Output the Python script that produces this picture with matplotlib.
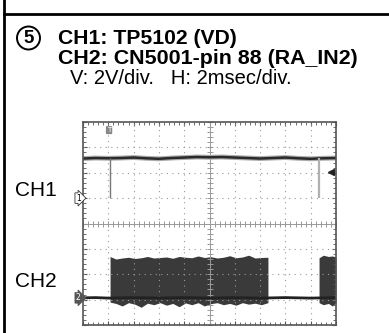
import matplotlib.pyplot as plt
import numpy as np

# 파형 데이터 (단위: division)
time_div = [0, 0.5, 1.0, 1.5, 2.0, 2.5, 3.0, 3.5, 4.0, 4.5, 5.0,
            5.5, 6.0, 6.5, 7.0, 7.5, 8.0, 8.5, 9.0, 9.5, 10.0]
ch1_level = [2.56, 2.58, 2.57, 2.58, 2.60, 2.57, 2.55, 2.58, 2.60, 2.62, 2.61,
             2.62, 2.60, 2.58, 2.56, 2.58, 2.60, 2.57, 2.55, 2.57, 2.58]
ch1_ground = 1.0
vd_pulse_t = [1.07, 9.33]

ch2_ground = -3.0
ch2_baseline = [-2.93, -2.92, -2.94, -2.93, -2.92, -2.93, -2.94, -2.93, -2.92, -2.93, -2.94,
                -2.93, -2.92, -2.93, -2.94, -2.93, -2.92, -2.93, -2.94, -2.93, -2.92]

burst1_t = [1.07, 1.3, 1.55, 1.8, 2.05, 2.3, 2.55, 2.8, 3.05, 3.3, 3.55, 3.8, 4.05,
            4.3, 4.55, 4.8, 5.05, 5.3, 5.55, 5.8, 6.05, 6.3, 6.55, 6.8, 7.05, 7.31]
burst1_top = [-1.30, -1.40, -1.36, -1.33, -1.38, -1.35, -1.30, -1.36, -1.34, -1.32, -1.37, -1.30, -1.33,
              -1.35, -1.28, -1.34, -1.31, -1.36, -1.33, -1.27, -1.35, -1.32, -1.25, -1.36, -1.34, -1.33]
burst1_bottom = [-3.10, -3.15, -3.25, -3.12, -3.18, -3.30, -3.14, -3.20, -3.12, -3.22, -3.15, -3.28, -3.13,
                 -3.20, -3.12, -3.25, -3.16, -3.12, -3.20, -3.15, -3.22, -3.12, -3.18, -3.14, -3.20, -3.12]
burst2_t = [9.33, 9.5, 9.7, 9.85, 10.0]
burst2_top = [-1.35, -1.25, -1.30, -1.28, -1.32]
burst2_bottom = [-3.12, -3.20, -3.15, -3.25, -3.12]

trig_t = 1.03
trig_level = 2.03

W, H = 389, 333
fig = plt.figure(figsize=(W / 100, H / 100), dpi=100)

# 패널 텍스트 및 테두리
bg = fig.add_axes([0, 0, 1, 1])
bg.set_xlim(0, W)
bg.set_ylim(H, 0)
bg.axis('off')
bg.plot([4, 4], [0, H], color='black', lw=2)
bg.plot([4, W], [14, 14], color='black', lw=2)
bg.add_patch(plt.Circle((28.5, 38), 11.5, fill=False, lw=1.4, color='black'))
bg.text(28.5, 38.5, '5', ha='center', va='center', fontsize=13.5, fontweight='bold', family='Liberation Sans')
bg.text(58, 44, 'CH1: TP5102 (VD)', fontsize=15.2, fontweight='bold', family='Liberation Sans')
bg.text(58, 64, 'CH2: CN5001-pin 88 (RA_IN2)', fontsize=15.4, fontweight='bold', family='Liberation Sans')
bg.text(70, 84, 'V: 2V/div.   H: 2msec/div.', fontsize=14.5, family='Liberation Sans')
bg.text(15, 196, 'CH1', fontsize=15, family='Liberation Sans')
bg.text(15, 287, 'CH2', fontsize=15, family='Liberation Sans')

# 오실로스코프 화면
ax = fig.add_axes([83 / W, 1 - 325 / H, 253 / W, 203 / H])
ax.set_xlim(0, 10)
ax.set_ylim(-4, 4)
for s in ax.spines.values():
    s.set_color('#555555')
    s.set_linewidth(1.2)
ax.set_xticks(range(11))
ax.set_yticks(range(-4, 5))
ax.set_xticks(np.arange(0, 10.01, 0.2), minor=True)
ax.set_yticks(np.arange(-4, 4.01, 0.2), minor=True)
ax.tick_params(which='both', direction='in', top=True, right=True,
               labelbottom=False, labelleft=False, color='#555555')
ax.tick_params(which='major', length=3)
ax.tick_params(which='minor', length=2)
for x in range(1, 10):
    if x != 5:
        ax.axvline(x, color='#999999', lw=0.8, ls=(0, (1, 4)))
for y in range(-3, 4):
    if y != 0:
        ax.axhline(y, color='#999999', lw=0.8, ls=(0, (1, 4)))
ax.axvline(5, color='#999999', lw=0.7)
ax.axhline(0, color='#999999', lw=0.7)
ax.plot(np.arange(0, 10.01, 0.2), [0] * 51, ls='none', marker='|', ms=4, color='#999999', mew=0.7)
ax.plot([5] * 41, np.arange(-4, 4.01, 0.2), ls='none', marker='_', ms=4, color='#999999', mew=0.7)

# CH1
ax.plot(time_div, ch1_level, color='#aaaaaa', lw=3.5)
ax.plot(time_div, ch1_level, color='#2a2a2a', lw=1.8)
ax.vlines(vd_pulse_t[0], ch1_ground, ch1_level[2], color='#777777', lw=1)
ax.vlines(vd_pulse_t[1], ch1_ground, ch1_level[-2], color='#b0b0b0', lw=1.6)

# CH2
ax.plot(time_div, ch2_baseline, color='#222222', lw=2)
ax.fill_between(burst1_t, burst1_bottom, burst1_top, color='#3a3a3a', lw=0)
ax.fill_between(burst2_t, burst2_bottom, burst2_top, color='#3a3a3a', lw=0)

# 마커
ax.text(trig_t, 3.68, 'T', ha='center', va='center', fontsize=5, color='white',
        bbox=dict(boxstyle='round,pad=0.15', fc='#888888', ec='none'))
ax.plot(9.82, trig_level, marker='<', ms=4, color='#222222')
ax.text(-0.1, ch1_ground, '1', ha='right', va='center', fontsize=5.5, clip_on=False,
        bbox=dict(boxstyle='rarrow,pad=0.1', fc='white', ec='#333333', lw=0.6))
ax.text(-0.1, ch2_ground + 0.07, '2', ha='right', va='center', fontsize=5.5, color='white', clip_on=False,
        bbox=dict(boxstyle='rarrow,pad=0.1', fc='#555555', ec='#555555', lw=0.6))

plt.savefig('out.png', dpi=100)
